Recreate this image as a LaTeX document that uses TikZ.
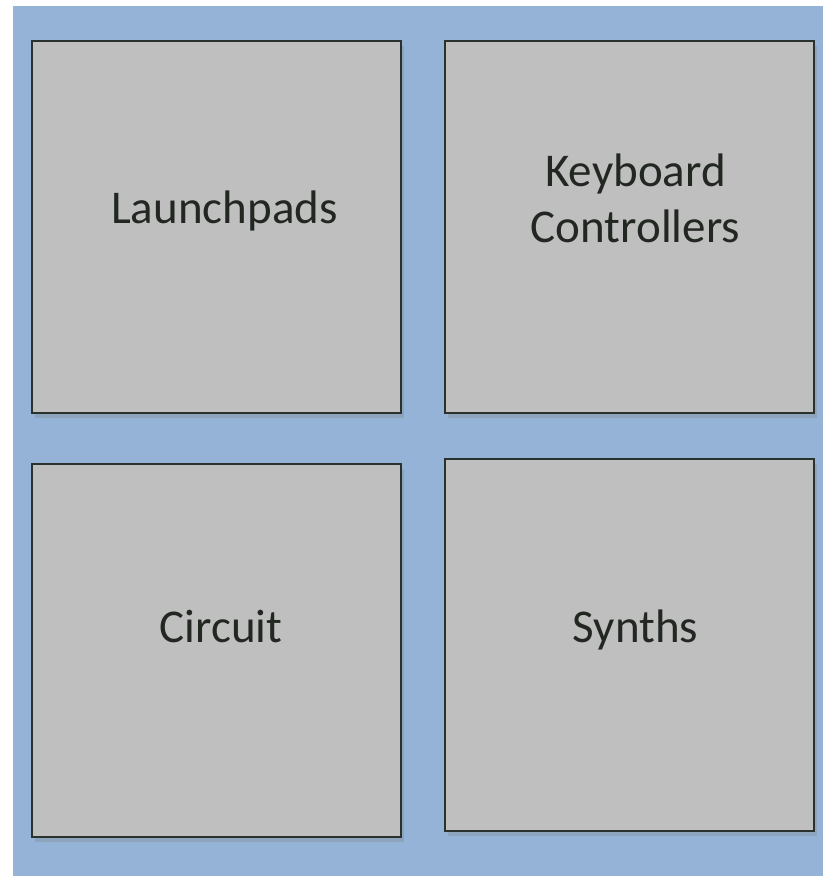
\documentclass[tikz,border=0pt]{standalone}
\usepackage{fontspec}
\setmainfont{Carlito}
\usetikzlibrary{shadows, positioning}
\definecolor{sky}{HTML}{95B3D7}
\definecolor{tile}{HTML}{BFBFBF}
\definecolor{rim}{HTML}{2A322D}
\definecolor{ink}{HTML}{222722}
\tikzset{
  tilebox/.style={draw=rim, fill=tile, line width=2.2pt, inner sep=0pt, minimum width=369pt,
    drop shadow={shadow xshift=3pt, shadow yshift=-5pt, opacity=0.3}},
  lbl/.style={text=ink, font=\fontsize{47}{56}\selectfont, align=center, inner sep=0pt, anchor=base}
}

\begin{document}
\begin{tikzpicture}[x=1pt, y=-1pt]
  \useasboundingbox (0,0) rectangle (823,876);
  \fill[white] (0,0) rectangle (823,876);
  \fill[sky] (13,6) rectangle (823,876);
  % four tiles
  \node[tilebox, minimum height=372pt] (lp) at (216.5,227) {};
  \node[tilebox, minimum height=372pt] (kc) at (629.5,227) {};
  \node[tilebox, minimum height=373pt] (ci) at (216.5,650.5) {};
  \node[tilebox, minimum height=372pt] (sy) at (629.5,645) {};
  % labels
  \node[lbl] (lpt) at (224.5,223) {Launchpads};
  \node[lbl] (kct) at (635.5,242) {Keyboard\\Controllers};
  \node[lbl] (cit) at (221,642) {Circuit};
  \node[lbl] (syt) at (635.5,642.5) {Synths};
\end{tikzpicture}
\end{document}
